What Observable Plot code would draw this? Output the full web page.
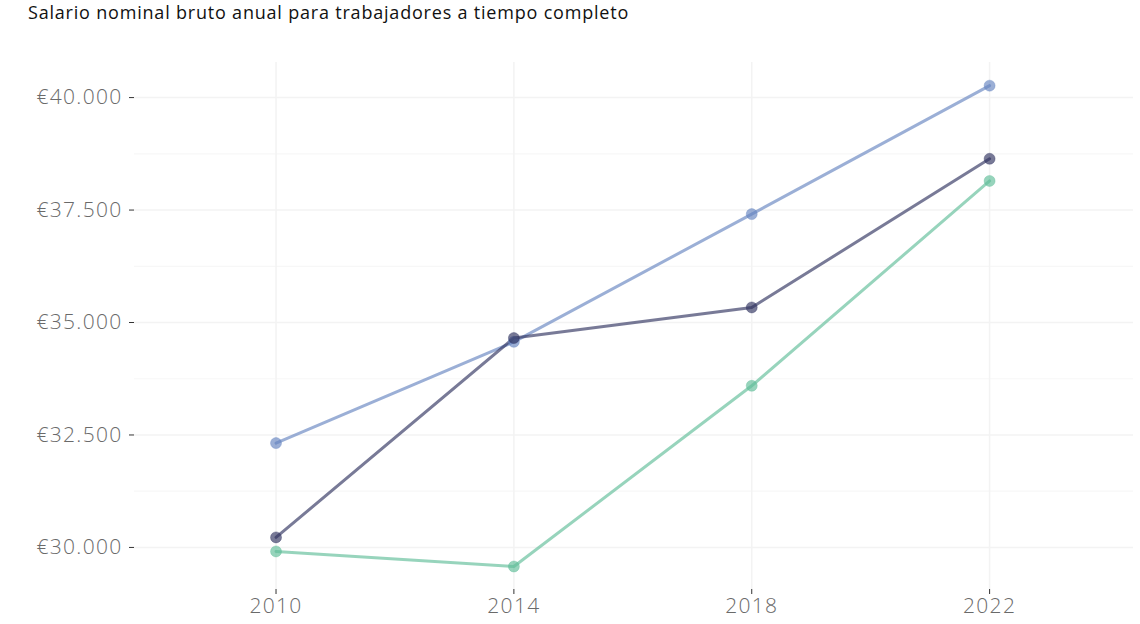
<!DOCTYPE html>
<html>
<head>
<meta charset="utf-8">
<script src="https://cdn.jsdelivr.net/npm/d3@7"></script>
<script src="https://cdn.jsdelivr.net/npm/@observablehq/plot@0.6"></script>
<style>
  html, body { margin: 0; padding: 0; background: #fff; }
  #title { height: 30px; line-height: 24px; font-family: "Open Sans", Lato, sans-serif; font-size: 18px; letter-spacing: 0.8px; color: #111; padding-left: 28px; white-space: nowrap; }
</style>
</head>
<body>
<div id="title">Salario nominal bruto anual para trabajadores a tiempo completo</div>
<div id="chart"></div>
<script>
const years = [2010, 2014, 2018, 2022];
const seriesNames = ["Serie 1", "Serie 2", "Serie 3"];
const serie1 = [32320, 34570, 37410, 40265];
const serie2 = [30223, 34655, 35335, 38640];
const serie3 = [29911, 29576, 33594, 38147];
const colors = ["#6584c0", "#303360", "#5fbd98"];
const yTicks = [30000, 32500, 35000, 37500, 40000];
const yMinor = [31250, 33750, 36250, 38750];

const allSeries = [serie1, serie2, serie3];
const data = [];
allSeries.forEach((vals, i) => vals.forEach((v, j) => data.push({serie: seriesNames[i], year: years[j], value: v})));

const fmt = d => "€" + d3.format(",")(d).replace(/,/g, ".");

const chart = Plot.plot({
  width: 1140,
  height: 594,
  marginTop: 32,
  marginBottom: 35,
  marginLeft: 134,
  marginRight: 7,
  style: {fontFamily: "'Open Sans', Lato, sans-serif", fontSize: "21px", fontWeight: 300, letterSpacing: "1.3px", color: "#666", background: "#fff"},
  x: {domain: [2007.62, 2024.42]},
  y: {domain: [29065, 40780]},
  color: {domain: seriesNames, range: colors},
  marks: [
    Plot.gridY(yMinor, {stroke: "#f7f7f7", strokeOpacity: 1, strokeWidth: 1.2}),
    Plot.gridY(yTicks, {stroke: "#f3f3f3", strokeOpacity: 1, strokeWidth: 1.5}),
    Plot.gridX(years, {stroke: "#f3f3f3", strokeOpacity: 1, strokeWidth: 1.5}),
    Plot.axisY(yTicks, {tickSize: 5, tickPadding: 7, stroke: "#333", fill: "#6a6a6a", tickFormat: fmt, label: null}),
    Plot.axisX(years, {tickSize: 5, tickPadding: 4, stroke: "#333", fill: "#6a6a6a", tickFormat: d => String(d), label: null}),
    Plot.line(data, {x: "year", y: "value", z: "serie", stroke: "serie", strokeWidth: 3, strokeOpacity: 0.65}),
    Plot.dot(data, {x: "year", y: "value", fill: "serie", r: 5.5, fillOpacity: 0.65, stroke: "serie", strokeOpacity: 0.35, strokeWidth: 1})
  ]
});
document.getElementById("chart").appendChild(chart);
</script>
</body>
</html>
